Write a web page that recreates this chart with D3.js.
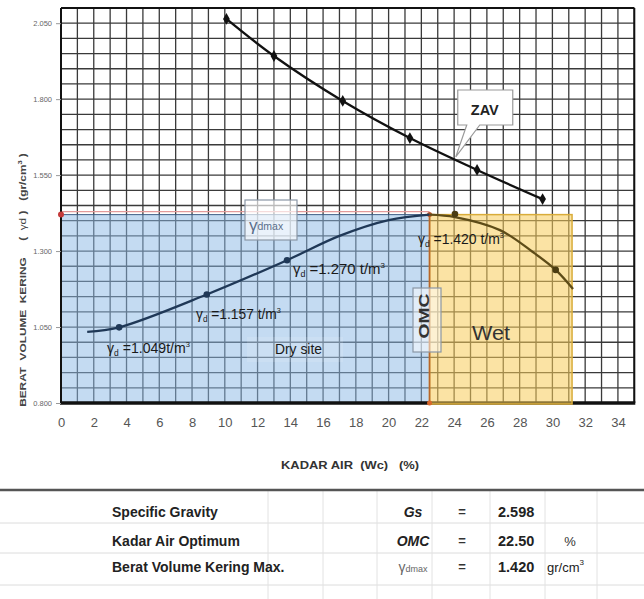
<!DOCTYPE html>
<html><head><meta charset="utf-8">
<script src="https://cdn.jsdelivr.net/npm/d3@7/dist/d3.min.js"></script>
<style>
html,body{margin:0;padding:0;background:#fff;}
svg{display:block;font-family:"Liberation Sans",Arial,sans-serif;}
</style></head>
<body>
<svg id="c" width="644" height="599"></svg>
<script>
// ---------- data ----------
const xTicks = [0,2,4,6,8,10,12,14,16,18,20,22,24,26,28,30,32,34];
const yTicks = [0.800,1.050,1.300,1.550,1.800,2.050];
const zavW = [10.1,13.0,17.2,21.3,25.4,29.4];
const zavG = [2.064,1.942,1.794,1.672,1.567,1.471];
const testW = [3.55,8.9,13.8,24.05,30.2];
const testG = [1.049,1.157,1.270,1.422,1.238];
const dryCurveW = [1.6,3.55,8.9,13.8,17.0,20.0,22.5];
const dryCurveG = [1.034,1.049,1.157,1.270,1.350,1.402,1.420];
const wetCurveW = [22.5,24.05,26.8,28.8,30.2,31.26];
const wetCurveG = [1.420,1.412,1.369,1.297,1.238,1.175];
const omc = 22.5, gdmax = 1.420, wetEnd = 31.2;
const labelValues = ["1.049","1.157 ","1.270 ","1.420 "];
const tableLabels = ["Specific Gravity","Kadar Air Optimum","Berat Volume Kering Max."];
const tableSymbols = ["Gs","OMC","γdmax"];
const tableValues = ["2.598","22.50","1.420"];
const tableUnits = ["","%","gr/cm3"];

// ---------- scales ----------
const svg = d3.select("#c");
const x = d3.scaleLinear().domain([0,35]).range([61,634.3]);
const y = d3.scaleLinear().domain([0.8,2.1]).range([403,8]);

svg.append("rect").attr("width",644).attr("height",599).attr("fill","#fff");

// grid
const grid = svg.append("g");
grid.selectAll("line.v").data(d3.range(0,36)).join("line")
  .attr("x1",d=>x(d)).attr("x2",d=>x(d)).attr("y1",y(2.1)).attr("y2",y(0.8))
  .attr("stroke","#3a3a3a").attr("stroke-width",1.3);
grid.selectAll("line.h").data(d3.range(0,27)).join("line")
  .attr("y1",d=>y(0.8+d*0.05)).attr("y2",d=>y(0.8+d*0.05)).attr("x1",x(0)).attr("x2",x(35))
  .attr("stroke","#3a3a3a").attr("stroke-width",1.3);

// dry region
svg.append("line").attr("x1",x(0)).attr("x2",x(omc)).attr("y1",y(gdmax)-3).attr("y2",y(gdmax)-3)
  .attr("stroke","#e39a9a").attr("stroke-width",1.2);
svg.append("rect").attr("x",x(0)).attr("y",y(gdmax)).attr("width",x(omc)-x(0)).attr("height",y(0.8)-y(gdmax))
  .attr("fill","#8ab8e6").attr("fill-opacity",0.5).attr("stroke","#3f5f86").attr("stroke-width",1);

// borders
svg.append("line").attr("x1",x(0)).attr("x2",x(35)).attr("y1",y(2.1)).attr("y2",y(2.1)).attr("stroke","#111").attr("stroke-width",2);
svg.append("line").attr("x1",x(35)).attr("x2",x(35)).attr("y1",y(2.1)).attr("y2",y(0.8)).attr("stroke","#111").attr("stroke-width",2);
svg.append("line").attr("x1",x(0)).attr("x2",x(0)).attr("y1",y(2.1)).attr("y2",y(0.8)).attr("stroke","#111").attr("stroke-width",2);
svg.append("line").attr("x1",x(0)-1).attr("x2",x(35)+1).attr("y1",y(0.8)).attr("y2",y(0.8)).attr("stroke","#111").attr("stroke-width",3.5);

// wet region
svg.append("rect").attr("x",x(omc)).attr("y",y(gdmax)).attr("width",x(wetEnd)-x(omc)).attr("height",y(0.8)-y(gdmax)+1)
  .attr("fill","#f7cc5a").attr("fill-opacity",0.55).attr("stroke","#d9ac3a").attr("stroke-width",1.5);
svg.append("line").attr("x1",x(omc)).attr("x2",x(omc)).attr("y1",y(gdmax)).attr("y2",y(0.8))
  .attr("stroke","#b8652a").attr("stroke-width",1.6);

// markers red
svg.append("circle").attr("cx",x(0)).attr("cy",y(gdmax)).attr("r",3).attr("fill","#c43a3a");
svg.append("circle").attr("cx",x(omc)).attr("cy",y(gdmax)).attr("r",2.5).attr("fill","#b8522a");
svg.append("circle").attr("cx",x(omc)).attr("cy",y(0.8)).attr("r",2.5).attr("fill","#d8662a");

// axes
const xAxis = svg.append("g").attr("transform",`translate(0,${y(0.8)})`)
  .call(d3.axisBottom(x).tickValues(xTicks).tickSize(0).tickPadding(15).tickFormat(d3.format("d")));
xAxis.select(".domain").remove();
xAxis.selectAll("text").attr("font-size",13).attr("fill","#555").attr("font-family","'Liberation Sans',Arial,sans-serif");
const yAxis = svg.append("g").attr("transform",`translate(${x(0)},0)`)
  .call(d3.axisLeft(y).tickValues(yTicks).tickSize(5).tickPadding(4).tickFormat(d3.format(".3f")));
yAxis.select(".domain").remove();
yAxis.selectAll("line").attr("stroke","#999");
yAxis.selectAll("text").attr("font-size",7.5).attr("fill","#666").attr("font-family","'Liberation Sans',Arial,sans-serif");

// curves
const line = d3.line().curve(d3.curveCatmullRom.alpha(0.5)).x(d=>x(d[0])).y(d=>y(d[1]));
svg.append("path").attr("d",line(dryCurveW.map((w,i)=>[w,dryCurveG[i]])))
  .attr("fill","none").attr("stroke","#1f3857").attr("stroke-width",2.3);
svg.append("path").attr("d",line(wetCurveW.map((w,i)=>[w,wetCurveG[i]])))
  .attr("fill","none").attr("stroke","#5e4c18").attr("stroke-width",2.3);
svg.selectAll("circle.t").data(testW.map((w,i)=>[w,testG[i]])).join("circle")
  .attr("cx",d=>x(d[0])).attr("cy",d=>y(d[1])).attr("r",3.3)
  .attr("fill",d=>d[0]>omc?"#4a3c12":"#1f3857");
svg.append("path").attr("d",line(zavW.map((w,i)=>[w,zavG[i]])))
  .attr("fill","none").attr("stroke","#111").attr("stroke-width",2.3);
svg.selectAll("path.z").data(zavW.map((w,i)=>[w,zavG[i]])).join("path")
  .attr("d",d3.symbol().type(d3.symbolDiamond).size(40))
  .attr("transform",d=>`translate(${x(d[0])},${y(d[1])})`).attr("fill","#111");

// helper to fit text width
function fit(textSel, target){
  const w = textSel.node().getComputedTextLength();
  textSel.attr("transform",`scale(${target/w},1)`);
}
function gammaLabel(px,py,val,target){
  const g = svg.append("g").attr("transform",`translate(${px},${py})`);
  const t = g.append("text").attr("font-size",15).attr("fill","#1a1a1a");
  t.append("tspan").text("γ");
  t.append("tspan").attr("font-size",9).attr("dy",3).text("d");
  t.append("tspan").attr("dy",-3).text(" =" + val + "t/m");
  t.append("tspan").attr("font-size",8).attr("dy",-6).text("3");
  fit(t,target);
  return g;
}
gammaLabel(107,352.5,labelValues[0],83);
gammaLabel(196,318.5,labelValues[1],85);
gammaLabel(293,273.5,labelValues[2],92);
gammaLabel(418,243.5,labelValues[3],86);

// Dry site
svg.append("rect").attr("x",247).attr("y",337).attr("width",96).attr("height",25).attr("fill","#fff").attr("fill-opacity",0.12);
{ const t = svg.append("g").attr("transform","translate(275,354)").append("text")
    .attr("font-size",15).attr("fill","#1a1a1a").text("Dry site"); fit(t,47); }

// Wet
{ const t = svg.append("g").attr("transform","translate(472,340)").append("text")
    .attr("font-size",21).attr("fill","#333").text("Wet"); fit(t,38); }

// OMC box
svg.append("rect").attr("x",413).attr("y",288).attr("width",28).attr("height",64)
  .attr("fill","#fff").attr("fill-opacity",0.5).attr("stroke","#8a97a6").attr("stroke-width",1.2);
{ const g = svg.append("g").attr("transform","translate(429,316) rotate(-90)");
  const t = g.append("text").attr("font-size",15).attr("font-weight","bold").attr("fill","#333")
    .attr("text-anchor","middle").text("OMC"); fit(t,45); }

// gamma dmax box
svg.append("rect").attr("x",245).attr("y",200).attr("width",52).attr("height",40)
  .attr("fill","#fff").attr("fill-opacity",0.65).attr("stroke","#8a97a6").attr("stroke-width",1.2);
{ const t = svg.append("text").attr("x",249).attr("y",231).attr("fill","#5a6f8a");
  t.append("tspan").attr("font-size",17).text("γ");
  t.append("tspan").attr("font-size",10.5).attr("dy",-1).text("dmax"); }

// ZAV callout
const tipX = x(24.1), tipY = y(1.61);
svg.append("path")
  .attr("d",`M${tipX+2},90 H${tipX+57} V125 H${tipX+24} L${tipX},${tipY} L${tipX+11},125 H${tipX+2} Z`)
  .attr("fill","#fff").attr("stroke","#9a9a9a").attr("stroke-width",1.2);
svg.append("text").attr("x",tipX+29).attr("y",115).attr("text-anchor","middle")
  .attr("font-size",14.5).attr("font-weight","bold").attr("fill","#222").text("ZAV");

// Y title
{ const g = svg.append("g").attr("transform","translate(26,280) rotate(-90)");
  const t = g.append("text").attr("font-size",9.5).attr("font-weight","bold").attr("fill","#444")
    .attr("text-anchor","middle").attr("xml:space","preserve");
  t.append("tspan").text("BERAT  VOLUME  KERING     (  ");
  t.append("tspan").attr("font-weight","normal").text("γd");
  t.append("tspan").text(" )   (gr/cm");
  t.append("tspan").attr("font-size",6).attr("dy",-4).text("3");
  t.append("tspan").attr("dy",4).text(" )");
  fit(t,254); }

// X title
{ const g = svg.append("g").attr("transform","translate(350,469)");
  const t = g.append("text").attr("font-size",10.5).attr("font-weight","bold").attr("fill","#333")
    .attr("text-anchor","middle").attr("xml:space","preserve").text("KADAR AIR  (Wc)   (%)");
  fit(t,138); }

// ---------- table ----------
const tb = svg.append("g");
[523,553,585].forEach(yy=>tb.append("line").attr("x1",0).attr("x2",644).attr("y1",yy).attr("y2",yy)
  .attr("stroke","#dcdcdc").attr("stroke-width",1));
[268,323,377,432,490,545,597].forEach(xx=>tb.append("line").attr("x1",xx).attr("x2",xx).attr("y1",491).attr("y2",599)
  .attr("stroke","#e2e2e2").attr("stroke-width",1));
tb.append("line").attr("x1",0).attr("x2",644).attr("y1",490).attr("y2",490).attr("stroke","#555").attr("stroke-width",2.5);
const rowY = [517,546,572];
tableLabels.forEach((s,i)=>tb.append("text").attr("x",112).attr("y",rowY[i])
  .attr("font-size",14).attr("font-weight","bold").attr("fill","#222").text(s));
tableSymbols.forEach((s,i)=>{
  if(s.startsWith("γ")){
    const t = tb.append("text").attr("x",413).attr("y",rowY[i]).attr("text-anchor","middle").attr("fill","#666");
    t.append("tspan").attr("font-size",14).text("γ");
    t.append("tspan").attr("font-size",9).text(s.slice(1));
  } else {
    tb.append("text").attr("x",413).attr("y",rowY[i]).attr("text-anchor","middle")
      .attr("font-size",14).attr("font-weight","bold").attr("font-style","italic").attr("fill","#222").text(s);
  }
  tb.append("text").attr("x",462).attr("y",rowY[i]-1).attr("text-anchor","middle")
    .attr("font-size",13).attr("font-weight","bold").attr("fill","#333").text("=");
});
tableValues.forEach((s,i)=>tb.append("text").attr("x",498).attr("y",rowY[i])
  .attr("font-size",14.5).attr("font-weight","bold").attr("fill","#222").text(s));
tableUnits.forEach((s,i)=>{
  if(!s) return;
  if(s==="%"){
    tb.append("text").attr("x",570).attr("y",rowY[i]).attr("text-anchor","middle")
      .attr("font-size",13).attr("fill","#333").text(s);
  } else {
    const t = tb.append("text").attr("x",547).attr("y",rowY[i]).attr("font-size",13).attr("fill","#222");
    t.append("tspan").text(s.slice(0,-1));
    t.append("tspan").attr("font-size",8).attr("dy",-7).text(s.slice(-1));
  }
});
</script>
</body></html>
